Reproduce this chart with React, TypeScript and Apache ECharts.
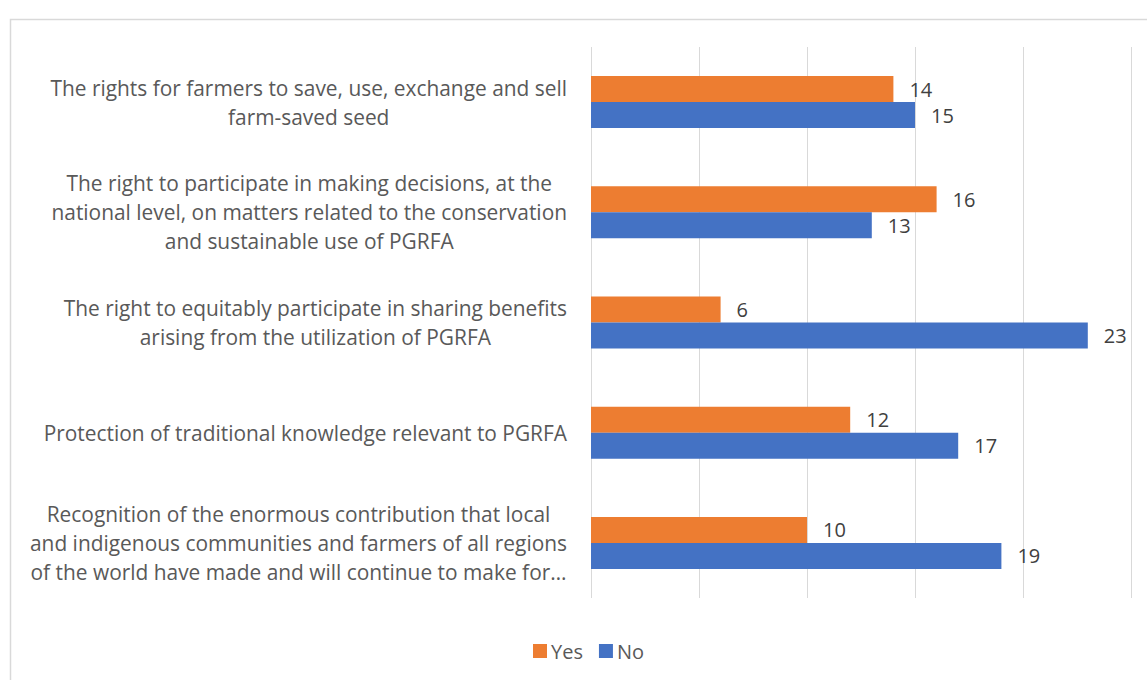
import React, { useEffect, useRef } from "react";
import * as echarts from "echarts";

const categories: string[] = [
  "The rights for farmers to save, use, exchange and sell\nfarm-saved seed",
  "The right to participate in making decisions, at the\nnational level, on matters related to the conservation\nand sustainable use of PGRFA",
  "The right to equitably participate in sharing benefits\narising from the utilization of PGRFA",
  "Protection of traditional knowledge relevant to PGRFA",
  "Recognition of the enormous contribution that local\nand indigenous communities and farmers of all regions\nof the world have made and will continue to make for…",
];
const yesValues: number[] = [14, 16, 6, 12, 10];
const noValues: number[] = [15, 13, 23, 17, 19];
const seriesNames: string[] = ["Yes", "No"];

const FONT = "'Open Sans', 'Noto Sans', sans-serif";
const CAT_FS = 20.9;
const VAL_FS = 20;
const LEG_FS = 20;

export default function App() {
  const ref = useRef<HTMLDivElement>(null);
  useEffect(() => {
    if (!ref.current) return;
    const chart = echarts.init(ref.current, null, { renderer: "svg" });
    const labelStyle = {
      show: true,
      position: "right" as const,
      distance: 16,
      color: "#404040",
      fontSize: VAL_FS,
      fontFamily: FONT,
    };
    chart.setOption({
      animation: false,
      backgroundColor: "#ffffff",
      textStyle: { fontFamily: FONT },
      graphic: [
        {
          type: "rect",
          left: 8,
          top: 17,
          shape: { width: 1160, height: 700 },
          style: { fill: "none", stroke: "#d9d9d9", lineWidth: 1.5 },
          silent: true,
        },
      ],
      grid: { left: 591, right: 16, top: 47, bottom: 82, containLabel: false },
      legend: {
        data: seriesNames,
        left: 533,
        top: 641,
        padding: 0,
        itemWidth: 14,
        itemHeight: 14,
        itemGap: 16,
        icon: "rect",
        textStyle: {
          fontSize: LEG_FS,
          lineHeight: 20,
          color: "#595959",
          fontFamily: FONT,
          padding: [0, 0, 0, -1],
        },
      },
      xAxis: {
        type: "value",
        min: 0,
        max: 25,
        interval: 5,
        axisLabel: { show: false },
        axisLine: { show: false },
        axisTick: { show: false },
        splitLine: { show: true, lineStyle: { color: "#d9d9d9", width: 1 } },
      },
      yAxis: {
        type: "category",
        inverse: true,
        data: categories,
        axisLine: { show: false },
        axisTick: { show: false },
        axisLabel: {
          margin: 24,
          align: "right",
          color: "#595959",
          fontSize: CAT_FS,
          fontFamily: FONT,
          lineHeight: 29,
          formatter: (v: string) =>
            v
              .split("\n")
              .map((l) => `{c|${l}}`)
              .join("\n"),
          rich: {
            c: {
              align: "center",
              color: "#595959",
              fontSize: CAT_FS,
              fontFamily: FONT,
              lineHeight: 29,
            },
          },
        },
      },
      series: [
        {
          name: seriesNames[0],
          type: "bar",
          data: yesValues,
          barWidth: 26,
          barGap: "0%",
          itemStyle: { color: "#ed7d31" },
          label: labelStyle,
        },
        {
          name: seriesNames[1],
          type: "bar",
          data: noValues,
          barWidth: 26,
          barGap: "0%",
          itemStyle: { color: "#4472c4" },
          label: labelStyle,
        },
      ],
    });
    return () => chart.dispose();
  }, []);
  return (
    <div
      ref={ref}
      style={{ position: "fixed", left: 0, top: 0, width: 1147, height: 680 }}
    />
  );
}
